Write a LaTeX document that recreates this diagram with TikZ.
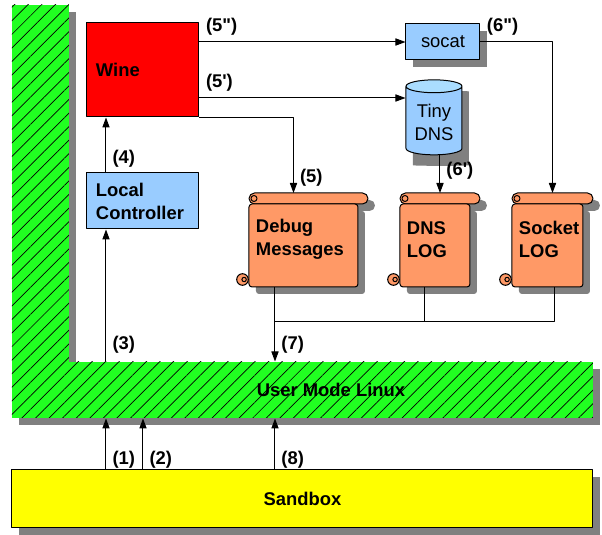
\documentclass[tikz,border=0pt]{standalone}
\usepackage{fontspec}
\setmainfont{Liberation Sans}
\usetikzlibrary{arrows.meta,shadows,shapes.geometric,patterns.meta}
\definecolor{umlgreen}{RGB}{33,255,33}
\definecolor{winered}{RGB}{255,0,0}
\definecolor{boxblue}{RGB}{153,204,255}
\definecolor{topblue}{RGB}{170,221,255}
\definecolor{logorange}{RGB}{255,153,102}
\definecolor{sbyellow}{RGB}{255,255,0}
\definecolor{shadowgray}{RGB}{128,128,128}
\begin{document}
\begin{tikzpicture}[x=0.5pt, y=-0.5pt, line width=0.5pt, line join=round, >={Triangle[length=5pt,width=3.6pt]},
	font=\fontsize{9.2}{11.5}\selectfont\bfseries,
	shade/.style={drop shadow={shadow xshift=3.5pt, shadow yshift=-3.5pt, fill=shadowgray, opacity=1}},
	hatch/.style={preaction={fill=umlgreen}, pattern={Lines[angle=45,distance=4.8pt,line width=0.35pt]}},
	box/.style={draw, rectangle, inner sep=4.5pt, align=left, text width=47pt, minimum width=56pt},
	can/.style={cylinder, shape border rotate=90, aspect=0.3, minimum width=28pt, minimum height=37.5pt, align=center, inner sep=1pt},
	logbody/.style={draw, fill=logorange, rectangle, rounded corners=1.5pt, inner sep=0pt},
	lbl/.style={inner sep=3pt}]
		\useasboundingbox (0,0) rectangle (602,535);
		% green L
		\path[shade, hatch] (12,5) rectangle (69,418);
		\node[shade, hatch, minimum width=262pt, minimum height=28pt, inner sep=0pt] (uml) at (331,390) {User Mode Linux};
		\node[draw, fill=sbyellow, shade, minimum width=290.5pt, minimum height=29pt] (sandbox) at (302.5,499) {Sandbox};
		% boxes
		\node[box, fill=winered, minimum height=47pt] (wine) at (143,70) {Wine};
		\node[box, fill=boxblue, minimum height=28pt] (lc) at (143,201) {Local\\Controller};
		\node[draw, fill=boxblue, shade, minimum width=37pt, minimum height=18pt, font=\fontsize{9.2}{11.5}\selectfont] (socat) at (443,42) {socat};
		\node[can, fill=shadowgray] (tinyshadow) at (441,129) {};
		\node[can, draw, cylinder uses custom fill, cylinder body fill=boxblue, cylinder end fill=topblue,
			font=\fontsize{9.2}{11.5}\selectfont] (tiny) at (434,122) {Tiny\\DNS};
		% logs
		\foreach \n/\x/\w/\txt in {debug/249/109/{Debug\\Messages}, dns/400/70/{DNS\\LOG}, sock/512/71/{Socket\\LOG}}{
			\draw[fill=logorange, shade, rounded corners=2.75pt] (\x,193) rectangle ++(\w+10,11);
			\node[logbody, shade, minimum width=\w*0.5pt, minimum height=41.5pt] (\n) at (\x+\w/2,245.5) {};
			\node[anchor=west, align=left, inner sep=2pt] (\n-txt) at ([xshift=1.5pt,yshift=3pt]\n.west) {\txt};
			\draw (\x+5,198.5) circle (1.5pt);
			\draw[fill=logorange] ([xshift=-3pt,yshift=4pt]\n.south west) circle (2.9pt);
			\draw ([xshift=-2.2pt,yshift=4pt]\n.south west) circle (1.1pt);
			\coordinate (\n-top) at (\x+\w/2+5,193);
		}
		\coordinate (ca) at (106,0); \coordinate (cb) at (143,0); \coordinate (cc) at (275,322);
		% arrows
		\draw[->] (sandbox.north -| ca) -- (uml.south -| ca) node[lbl, right, pos=0.19] (l1) {(1)};
		\draw[->] (sandbox.north -| cb) -- (uml.south -| cb) node[lbl, right, pos=0.19] (l2) {(2)};
		\draw[->] (sandbox.north -| cc) -- (uml.south -| cc) node[lbl, right, pos=0.19] (l8) {(8)};
		\draw[->] (uml.north -| ca) -- (lc.south -| ca) node[lbl, right, pos=0.13] (l3) {(3)};
		\draw[->] (lc.north -| ca) -- (wine.south -| ca) node[lbl, right, pos=0.25] (l4) {(4)};
		\draw[->] (wine.east |- socat.west) -- (socat.west) node[lbl, above right, pos=0] (l5b) {(5\textquotedbl)};
		\draw[->] ([yshift=-14pt]wine.east) -- ([yshift=-14pt]wine.east -| tiny.west) node[lbl, above right, pos=0] (l5a) {(5\textquotesingle)};
		\draw[->] (wine.south east) -| ([xshift=-7.5pt]debug-top) node[lbl, right, pos=0.9] (l5) {(5)};
		\draw[->] (socat.east) -| (sock-top) node[lbl, above right, pos=0] (l6b) {(6\textquotedbl)};
		\draw[->] (dns-top |- tiny.south) -- (dns-top) node[lbl, right, pos=0.4] (l6a) {(6\textquotesingle)};
		\draw[->] (debug.south -| cc) -- (uml.north -| cc) node[lbl, right, pos=0.77] (l7) {(7)};
		\draw ([xshift=-5pt]dns.south) |- (cc);
		\draw ([xshift=3.75pt]sock.south) |- (cc);
\end{tikzpicture}
\end{document}
